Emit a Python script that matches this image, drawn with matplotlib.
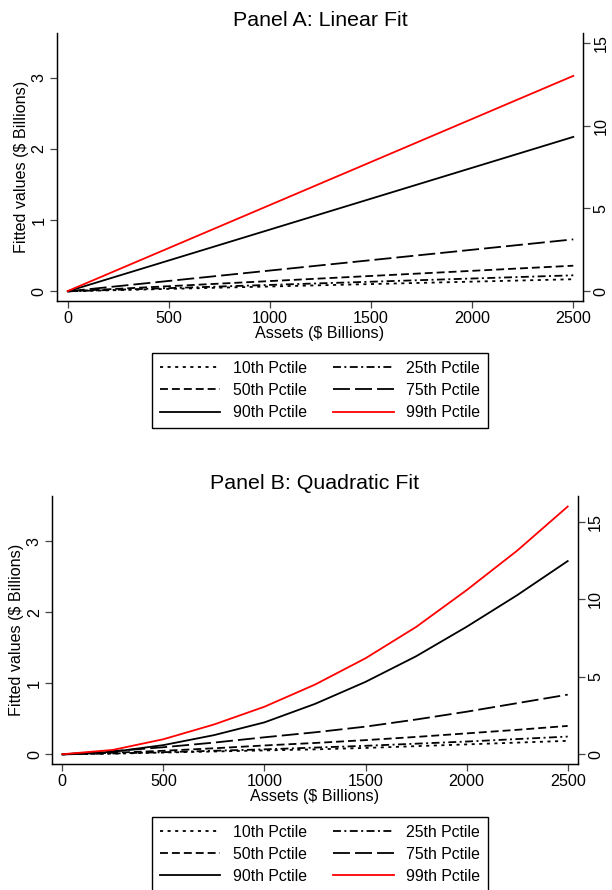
import numpy as np
from matplotlib import pyplot as plt
from matplotlib.lines import Line2D

plt.rcParams['font.family'] = ['Liberation Sans', 'DejaVu Sans']

# x grid (assets, $ billions)
assets_lin = [0, 2500]
assets_quad = [0, 250, 500, 750, 1000, 1250, 1500, 1750, 2000, 2250, 2500]

# Panel A: linear fit
# 10th-90th on left axis, 99th on right axis
lin_p10 = [0, 0.17]
lin_p25 = [0, 0.225]
lin_p50 = [0, 0.36]
lin_p75 = [0, 0.73]
lin_p90 = [0, 2.17]
lin_p99 = [0, 13.0]

# Panel B: quadratic fit
quad_p10 = [0, 0.01, 0.025, 0.04, 0.055, 0.07, 0.09, 0.115, 0.14, 0.165, 0.19]
quad_p25 = [0, 0.012, 0.03, 0.05, 0.07, 0.095, 0.12, 0.15, 0.18, 0.215, 0.25]
quad_p50 = [0, 0.022, 0.05, 0.085, 0.125, 0.16, 0.2, 0.245, 0.295, 0.345, 0.40]
quad_p75 = [0, 0.045, 0.1, 0.165, 0.24, 0.31, 0.39, 0.49, 0.6, 0.72, 0.84]
quad_p90 = [0, 0.035, 0.13, 0.27, 0.45, 0.71, 1.02, 1.38, 1.795, 2.24, 2.72]
quad_p99 = [0, 0.28, 0.97, 1.92, 3.07, 4.5, 6.2, 8.22, 10.6, 13.15, 16.0]

labels = ['10th Pctile', '25th Pctile', '50th Pctile',
          '75th Pctile', '90th Pctile', '99th Pctile']

LW = 1.3
styles = [
    dict(color='black', ls=(0, (1.7, 2.5))),
    dict(color='black', ls=(0, (4.4, 1.9, 1.1, 1.9))),
    dict(color='black', ls=(0, (4.4, 2.2))),
    dict(color='black', ls=(0, (9.4, 2.8))),
    dict(color='black', ls='-'),
    dict(color='red', ls='-'),
]

fig = plt.figure(figsize=(6.12, 8.9), dpi=100)


def panel(rect, title, x, left_series, right_series, xlim, ylim, ylim2, legend_top):
    ax = fig.add_axes(rect)
    ax2 = ax.twinx()
    for s, st in zip(left_series, styles[:5]):
        ax.plot(x, s, lw=LW, **st)
    ax2.plot(x, right_series, lw=LW, **styles[5])

    ax.set_xlim(*xlim)
    ax.set_ylim(*ylim)
    ax2.set_ylim(*ylim2)
    ax.set_xticks([0, 500, 1000, 1500, 2000, 2500])
    ax.set_yticks([0, 1, 2, 3])
    ax2.set_yticks([0, 5, 10, 15])
    for a in (ax, ax2):
        a.spines['top'].set_visible(False)
        a.tick_params(labelsize=11.6, length=5, width=0.9, color='#444444', pad=2.5)
        for sp in a.spines.values():
            sp.set_linewidth(0.9)
    ax.tick_params(axis='y', labelrotation=90)
    ax2.tick_params(axis='y', labelrotation=90)
    for t in ax.get_yticklabels() + ax2.get_yticklabels():
        t.set_va('center')
    ax.set_xlabel('Assets ($ Billions)', fontsize=11.6, labelpad=0)
    ax.set_ylabel('Fitted values ($ Billions)', fontsize=11.6, labelpad=2)
    ax.set_title(title, fontsize=15.4, pad=5)

    handles = [Line2D([], [], lw=LW, **st) for st in styles]
    order = [0, 2, 4, 1, 3, 5]
    fig.legend([handles[i] for i in order], [labels[i] for i in order],
               loc='upper center', bbox_to_anchor=(0.5229, legend_top),
               borderaxespad=0, ncol=2, fontsize=11.4, handlelength=3.8,
               columnspacing=1.7, handletextpad=0.8, labelspacing=0.45,
               borderpad=0.5, fancybox=False, edgecolor='black', framealpha=1)
    return ax


panel([57 / 612, 1 - 301 / 890, 526 / 612, 268 / 890], 'Panel A: Linear Fit',
      assets_lin, [lin_p10, lin_p25, lin_p50, lin_p75, lin_p90], lin_p99,
      (-53, 2548), (-0.136, 3.63), (-0.6, 15.59), 1 - 353 / 890)

panel([52.3 / 612, 1 - 764 / 890, 525.4 / 612, 268.3 / 890], 'Panel B: Quadratic Fit',
      assets_quad, [quad_p10, quad_p25, quad_p50, quad_p75, quad_p90], quad_p99,
      (-49.5, 2549.5), (-0.136, 3.64), (-0.63, 16.7), 1 - 816.7 / 890)

plt.savefig('out.png', dpi=100)
